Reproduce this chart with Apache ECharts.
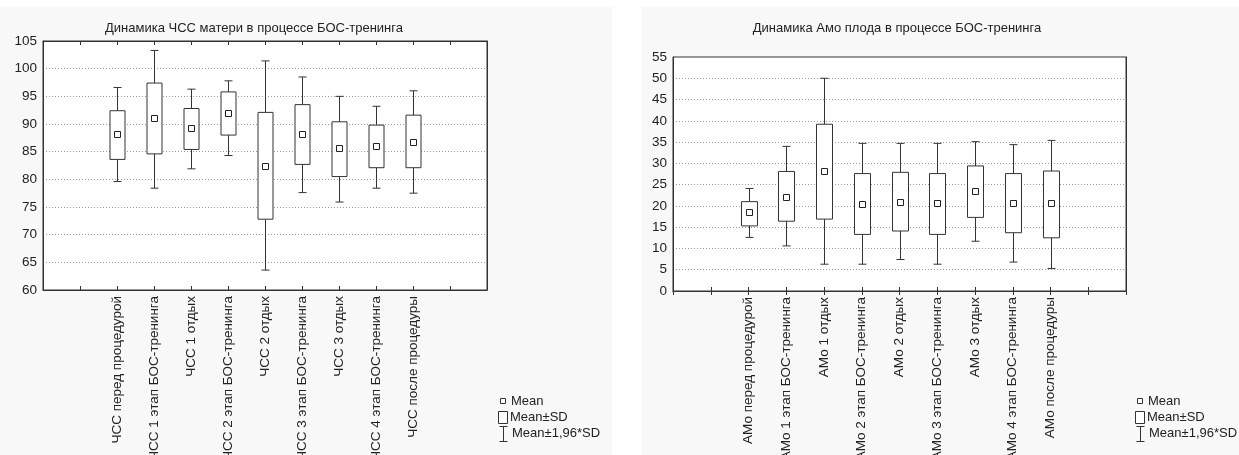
<!DOCTYPE html>
<html>
<head>
<meta charset="utf-8">
<script src="https://cdn.jsdelivr.net/npm/echarts@6/dist/echarts.min.js"></script>
<style>
  html, body { margin: 0; padding: 0; background: #fff; }
  #chart { width: 1239px; height: 455px; }
</style>
</head>
<body>
<div id="chart"></div>
<script>
// --- data ---
const hrCats = ['ЧСС перед процедурой', 'ЧСС 1 этап БОС-тренинга', 'ЧСС 1 отдых', 'ЧСС 2 этап БОС-тренинга',
  'ЧСС 2 отдых', 'ЧСС 3 этап БОС-тренинга', 'ЧСС 3 отдых', 'ЧСС 4 этап БОС-тренинга', 'ЧСС после процедуры'];
const hrMean   = [88.2, 91.0, 89.2, 92.0, 82.5, 88.2, 85.7, 86.0, 86.8];
const hrSdLow  = [83.6, 84.6, 85.4, 88.0, 72.8, 82.7, 80.5, 82.1, 82.1];
const hrSdHigh = [92.4, 97.4, 92.8, 95.8, 92.1, 93.5, 90.4, 89.8, 91.6];
const hrCiLow  = [79.6, 78.4, 81.9, 84.3, 63.6, 77.6, 75.9, 78.4, 77.5];
const hrCiHigh = [96.6, 103.3, 96.3, 97.8, 101.4, 98.5, 95.0, 93.2, 96.0];
const hrTicks = { min: 60, max: 105, step: 5 };

const amoCats = ['АМо перед процедурой', 'АМо 1 этап БОС-тренинга', 'АМо 1 отдых', 'АМо 2 этап БОС-тренинга',
  'АМо 2 отдых', 'АМо 3 этап БОС-тренинга', 'АМо 3 отдых', 'АМо 4 этап БОС-тренинга', 'АМо после процедуры'];
const amoMean   = [18.5, 22.2, 28.3, 20.5, 21.0, 20.6, 23.5, 20.7, 20.6];
const amoSdLow  = [15.3, 16.4, 16.9, 13.3, 14.1, 13.3, 17.3, 13.7, 12.5];
const amoSdHigh = [21.0, 28.1, 39.2, 27.6, 27.9, 27.6, 29.4, 27.6, 28.2];
const amoCiLow  = [12.6, 10.6, 6.3, 6.3, 7.4, 6.3, 11.7, 6.8, 5.3];
const amoCiHigh = [24.1, 34.0, 50.0, 34.7, 34.7, 34.7, 35.1, 34.4, 35.4];
const amoTicks = { min: 0, max: 55, step: 5 };

const legendNames = ['Mean', 'Mean±SD', 'Mean±1,96*SD'];

// two empty slots on each side of the categories, like the original
const pad = (cats) => ['', ''].concat(cats, ['', '']);
const boxData = (mean, sdL, sdH, ciL, ciH) =>
  mean.map((m, i) => [i + 2, ciL[i], sdL[i], m, sdH[i], ciH[i]]);

const ink = '#333';
const font = 'Arial, "Liberation Sans", sans-serif';

function makeRender(half, cap) {
  return function (params, api) {
    const x = api.value(0);
    const pCiL = api.coord([x, api.value(1)]);
    const pSdL = api.coord([x, api.value(2)]);
    const pMean = api.coord([x, api.value(3)]);
    const pSdH = api.coord([x, api.value(4)]);
    const pCiH = api.coord([x, api.value(5)]);
    const cx = Math.round(pMean[0]) + 0.5;
    const line = { stroke: ink, lineWidth: 1 };
    return {
      type: 'group',
      children: [
        { type: 'line', shape: { x1: cx, y1: pCiH[1], x2: cx, y2: pSdH[1] }, style: line },
        { type: 'line', shape: { x1: cx, y1: pSdL[1], x2: cx, y2: pCiL[1] }, style: line },
        { type: 'line', shape: { x1: cx - cap, y1: pCiH[1], x2: cx + cap, y2: pCiH[1] }, style: line },
        { type: 'line', shape: { x1: cx - cap, y1: pCiL[1], x2: cx + cap, y2: pCiL[1] }, style: line },
        { type: 'rect', shape: { x: cx - half, y: pSdH[1], width: half * 2, height: pSdL[1] - pSdH[1] },
          style: { fill: '#fff', stroke: ink, lineWidth: 1 } },
        { type: 'rect', shape: { x: cx - 3, y: Math.round(pMean[1]) - 2.5, width: 6, height: 6 },
          style: { fill: '#fff', stroke: '#222', lineWidth: 1 } }
      ]
    };
  };
}

function xAxes(grid, cats) {
  const data = pad(cats);
  return [
    {
      type: 'category', gridIndex: grid, data: data, boundaryGap: false,
      axisLine: { lineStyle: { color: ink } },
      axisTick: { inside: true, length: 4, interval: 0, lineStyle: { color: ink } },
      axisLabel: { rotate: 90, interval: 0, margin: 6, fontSize: 13.5, color: '#222', fontFamily: font },
      splitLine: { show: false }
    },
    {
      type: 'category', gridIndex: grid, data: data, boundaryGap: false, position: 'top',
      axisLine: { lineStyle: { color: ink } },
      axisTick: { inside: true, length: 4, interval: 0, lineStyle: { color: ink } },
      axisLabel: { show: false }
    }
  ];
}

function yAxes(grid, t) {
  return [
    {
      type: 'value', gridIndex: grid, min: t.min, max: t.max, interval: t.step,
      axisLine: { show: true, lineStyle: { color: ink } },
      axisTick: { show: false },
      axisLabel: { margin: 6, fontSize: 13.5, color: '#222', fontFamily: font },
      splitLine: { lineStyle: { color: '#9a9a9a', type: [1, 2] } }
    },
    {
      type: 'value', gridIndex: grid, min: t.min, max: t.max, interval: t.step, position: 'right',
      axisLine: { show: true, lineStyle: { color: ink } },
      axisTick: { inside: true, length: 3, lineStyle: { color: ink } },
      axisLabel: { show: false },
      splitLine: { show: false }
    }
  ];
}

function legend(x, y) {
  const txt = (tx, ty, s) => ({
    type: 'text', x: tx, y: ty,
    style: { text: s, fill: '#222', fontSize: 13, fontFamily: font, verticalAlign: 'middle' }
  });
  const ln = (x1, y1, x2, y2) => ({
    type: 'line', shape: { x1: x1, y1: y1, x2: x2, y2: y2 }, style: { stroke: ink, lineWidth: 1 }
  });
  return [
    { type: 'rect', shape: { x: x - 2.5, y: y - 2.5, width: 5, height: 5 }, style: { fill: '#fff', stroke: ink } },
    txt(x + 8, y, legendNames[0]),
    { type: 'rect', shape: { x: x - 4.5, y: y + 10.5, width: 9, height: 12 }, style: { fill: '#fff', stroke: ink } },
    txt(x + 7, y + 16, legendNames[1]),
    ln(x + 0.5, y + 25, x + 0.5, y + 40),
    ln(x - 3.5, y + 25.5, x + 4.5, y + 25.5),
    ln(x - 3.5, y + 40.5, x + 4.5, y + 40.5),
    txt(x + 9, y + 32, legendNames[2])
  ];
}

const option = {
  backgroundColor: '#fff',
  animation: false,
  title: [
    { text: 'Динамика ЧСС матери в процессе БОС-тренинга', left: 249, top: 17, textAlign: 'center',
      textStyle: { fontSize: 13, fontWeight: 'normal', color: '#222', fontFamily: font } },
    { text: 'Динамика Амо плода в процессе БОС-тренинга', left: 892, top: 17, textAlign: 'center',
      textStyle: { fontSize: 13, fontWeight: 'normal', color: '#222', fontFamily: font } }
  ],
  graphic: [
    { type: 'rect', z: -10, shape: { x: 0, y: 7, width: 612, height: 448 }, style: { fill: '#f8f8f8' } },
    { type: 'rect', z: -10, shape: { x: 642, y: 7, width: 597, height: 448 }, style: { fill: '#f8f8f8' } }
  ].concat(legend(503, 401), legend(1140, 401)),
  grid: [
    { left: 43, top: 41, width: 444, height: 249, outerBoundsMode: 'none',
      show: true, backgroundColor: '#fff', borderColor: ink, borderWidth: 1 },
    { left: 673, top: 57, width: 453, height: 234, outerBoundsMode: 'none',
      show: true, backgroundColor: '#fff', borderColor: ink, borderWidth: 1 }
  ],
  xAxis: xAxes(0, hrCats).concat(xAxes(1, amoCats)),
  yAxis: yAxes(0, hrTicks).concat(yAxes(1, amoTicks)),
  series: [
    {
      type: 'custom', xAxisIndex: 0, yAxisIndex: 0,
      renderItem: makeRender(7.5, 4),
      encode: { x: 0, y: [1, 2, 3, 4, 5] },
      data: boxData(hrMean, hrSdLow, hrSdHigh, hrCiLow, hrCiHigh)
    },
    {
      type: 'custom', xAxisIndex: 2, yAxisIndex: 2,
      renderItem: makeRender(8, 4),
      encode: { x: 0, y: [1, 2, 3, 4, 5] },
      data: boxData(amoMean, amoSdLow, amoSdHigh, amoCiLow, amoCiHigh)
    }
  ]
};

const chart = echarts.init(document.getElementById('chart'));
chart.setOption(option);
</script>
</body>
</html>
